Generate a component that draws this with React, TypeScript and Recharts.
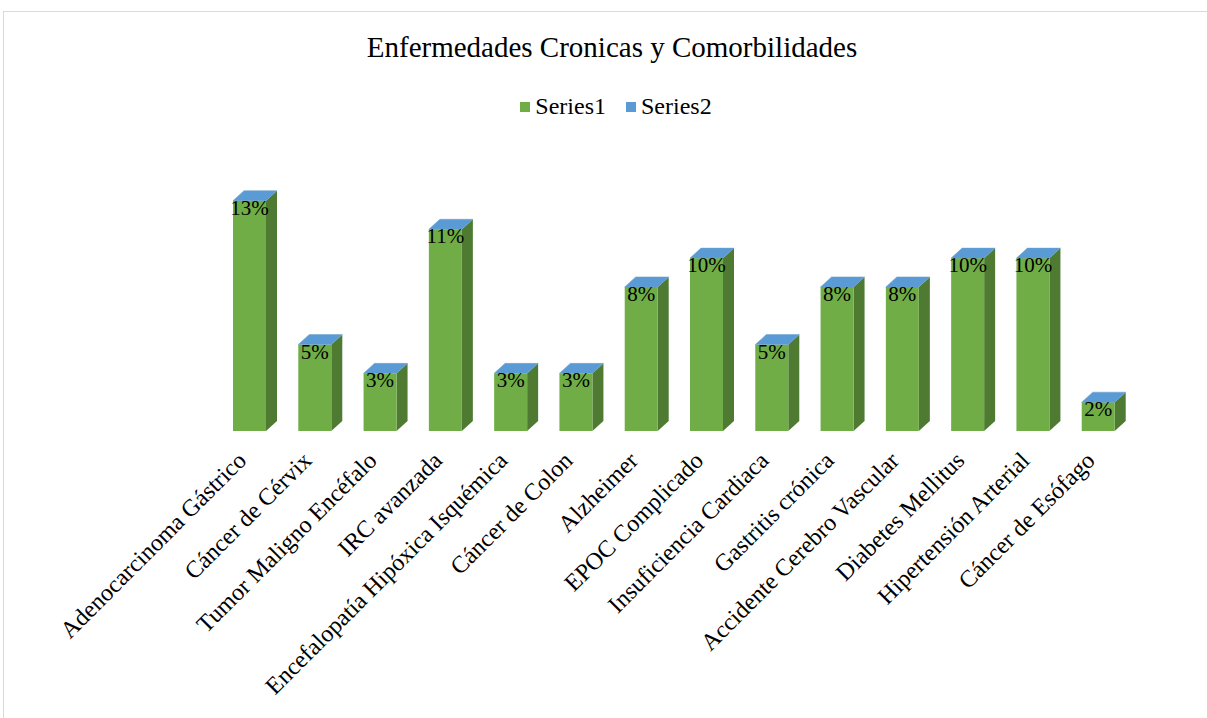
import React from 'react';
import { BarChart, Bar, XAxis, YAxis, LabelList } from 'recharts';

const categories = [
  'Adenocarcinoma Gástrico',
  'Cáncer de Cérvix',
  'Tumor Maligno Encéfalo',
  'IRC avanzada',
  'Encefalopatía Hipóxica Isquémica',
  'Cáncer  de Colon',
  'Alzheimer',
  'EPOC Complicado',
  'Insuficiencia Cardiaca',
  'Gastritis crónica',
  'Accidente Cerebro Vascular',
  'Diabetes Mellitus',
  'Hipertensión Arterial',
  'Cáncer de Esófago',
];
const series1 = [13.11, 4.92, 3.28, 11.48, 3.28, 3.28, 8.2, 9.84, 4.92, 8.2, 8.2, 9.84, 9.84, 1.64];
const series2 = [0, 0, 0, 0, 0, 0, 0, 0, 0, 0, 0, 0, 0, 0];
const seriesNames = ['Series1', 'Series2'];
const seriesColors = ['#70AD47', '#5B9BD5'];

const data = categories.map((name, i) => ({ name, s1: series1[i], s2: series2[i] }));

const DX = 11;
const DY = 10;
const FONT = '"Liberation Serif", "Times New Roman", serif';

const FrontSide = (props: any) => {
  const { x, y, width, height } = props;
  if (height <= 0) return null;
  return (
    <g>
      <polygon
        points={`${x + width},${y} ${x + width + DX},${y - DY} ${x + width + DX},${y + height - DY} ${x + width},${y + height}`}
        fill="#4E7B31"
      />
      <rect x={x} y={y} width={width} height={height} fill="#70AD47" />
    </g>
  );
};

const Cap = (props: any) => {
  const { x, y, width } = props;
  return (
    <polygon
      points={`${x},${y} ${x + DX},${y - DY} ${x + width + DX},${y - DY} ${x + width},${y}`}
      fill="#5B9BD5"
      stroke="#6a9fc9"
      strokeWidth={0.5}
    />
  );
};

const PctLabel = (props: any) => {
  const { x, y, width, value } = props;
  return (
    <text x={x + width / 2} y={y + 14} textAnchor="middle" fontFamily={FONT} fontSize={21} fill="#000">
      {Math.round(value)}%
    </text>
  );
};

const CatTick = (props: any) => {
  const { x, y, payload } = props;
  return (
    <g transform={`translate(${x - 2},${y + 23})`}>
      <text transform="rotate(-45)" textAnchor="end" fontFamily={FONT} fontSize={24} fill="#000">
        {payload.value}
      </text>
    </g>
  );
};

export default function App() {
  return (
    <div style={{ position: 'relative', width: 1207, height: 718, overflow: 'hidden', fontFamily: FONT }}>
      <style>{'body{margin:0}'}</style>
      <svg width={1207} height={718} style={{ position: 'absolute', left: 0, top: 0 }}>
        <rect x={3.5} y={11.5} width={1220} height={730} fill="#fff" stroke="#d9d9d9" />
      </svg>
      <div style={{ position: 'absolute', left: 0, top: 0 }}>
        <BarChart width={1207} height={718} data={data} margin={{ top: 185, right: 76, left: 217, bottom: 257 }} barSize={33}>
          <XAxis dataKey="name" axisLine={false} tickLine={false} interval={0} height={30} tick={<CatTick />} />
          <YAxis hide domain={[0, 14]} />
          <Bar dataKey="s1" stackId="a" shape={<FrontSide />} isAnimationActive={false}>
            <LabelList dataKey="s1" content={<PctLabel />} />
          </Bar>
          <Bar dataKey="s2" stackId="a" shape={<Cap />} isAnimationActive={false} />
        </BarChart>
      </div>
      <div style={{ position: 'absolute', left: 0, top: 31, width: 1224, textAlign: 'center', fontSize: 29, color: '#000' }}>
        Enfermedades Cronicas y Comorbilidades
      </div>
      <div style={{ position: 'absolute', left: 0, top: 93, width: 1252, display: 'flex', justifyContent: 'center', fontSize: 24, color: '#000' }}>
        {seriesNames.map((n, i) => (
          <span key={n} style={{ display: 'flex', alignItems: 'center', marginRight: 20 }}>
            <span style={{ display: 'inline-block', width: 10, height: 10, background: seriesColors[i], marginRight: 5 }} />
            {n}
          </span>
        ))}
      </div>
    </div>
  );
}
